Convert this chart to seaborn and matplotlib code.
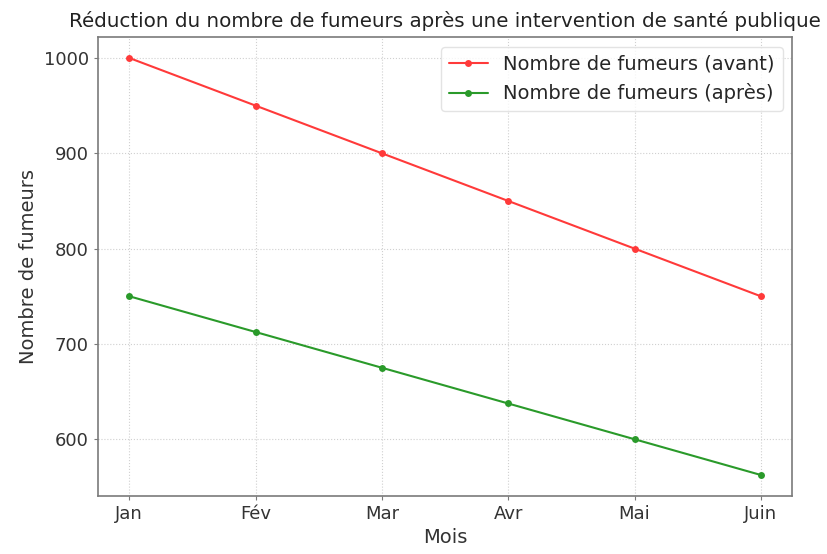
import matplotlib
matplotlib.use("Agg")
import matplotlib.pyplot as plt
import seaborn as sns
import pandas as pd

# Data
mois = ["Jan", "Fév", "Mar", "Avr", "Mai", "Juin"]
fumeurs_avant = [1000, 950, 900, 850, 800, 750]
fumeurs_apres = [750, 712.5, 675, 637.5, 600, 562.5]

df = pd.DataFrame({
    "Mois": mois * 2,
    "Nombre": fumeurs_avant + fumeurs_apres,
    "Serie": ["Nombre de fumeurs (avant)"] * 6 + ["Nombre de fumeurs (après)"] * 6,
})

sns.set_style("whitegrid", {"grid.linestyle": ":", "axes.edgecolor": "#7a7a7a",
                            "xtick.bottom": True, "ytick.left": True})
plt.rcParams['font.family'] = ['DejaVu Sans']

fig, ax = plt.subplots(figsize=(8.28, 5.54), dpi=100)
sns.lineplot(data=df, x="Mois", y="Nombre", hue="Serie",
             palette={"Nombre de fumeurs (avant)": "#ff3a3a",
                      "Nombre de fumeurs (après)": "#2a9a2a"},
             marker="o", markersize=5, markeredgewidth=0, linewidth=1.5,
             sort=False, ax=ax)

for s in ax.spines.values():
    s.set_visible(True)
    s.set_color("#7a7a7a")
    s.set_linewidth(1.2)

ax.set_title("Réduction du nombre de fumeurs après une intervention de santé publique",
             fontsize=14.3, color="#222222", pad=7)
ax.set_xlabel("Mois", fontsize=14, color="#333333")
ax.set_ylabel("Nombre de fumeurs", fontsize=14, color="#333333")
ax.tick_params(labelsize=13, labelcolor="#333333", color="#7a7a7a", length=3)
ax.grid(True, linestyle=":", color="#d0d0d0")
ax.legend(title=None, fontsize=14, loc="upper right", frameon=True,
          edgecolor="#dddddd")

plt.subplots_adjust(left=0.118, right=0.957, top=0.933, bottom=0.105)
plt.savefig("out.png", dpi=100)
